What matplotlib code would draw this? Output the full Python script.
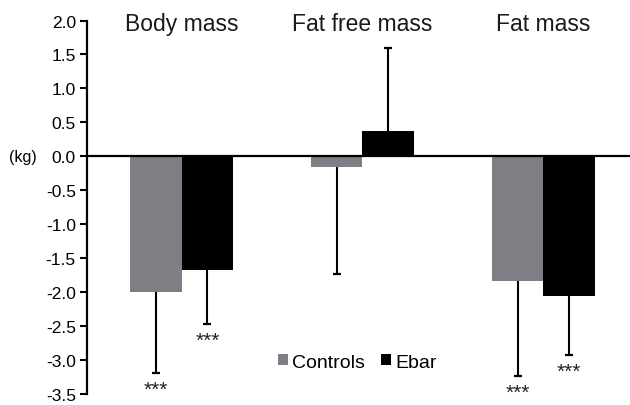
import numpy as np
import matplotlib.pyplot as plt

plt.rcParams['font.family'] = ['Liberation Sans', 'DejaVu Sans']

groups = ['Body mass', 'Fat free mass', 'Fat mass']
controls = [-2.0, -0.15, -1.83]
controls_err = [1.19, 1.58, 1.41]
ebar = [-1.68, 0.38, -2.06]
ebar_err = [0.79, 1.21, 0.87]
ctrl_sig = ['***', '', '***']
ebar_sig = ['***', '', '***']

x = np.arange(len(groups))
w = 0.285

fig = plt.figure(figsize=(6.3, 4.06), dpi=100)
ax = fig.add_axes([0.138, 0.027, 0.862, 0.92])


def one_sided(vals, errs):
    lo = [e if v < 0 else 0 for v, e in zip(vals, errs)]
    hi = [e if v >= 0 else 0 for v, e in zip(vals, errs)]
    return [lo, hi]


def draw_err(xs, vals, errs):
    ax.errorbar(xs, vals, yerr=one_sided(vals, errs), fmt='none', ecolor='black',
                elinewidth=1.5, capsize=0, zorder=3)
    ends = [v - e if v < 0 else v + e for v, e in zip(vals, errs)]
    ax.plot(xs, ends, ls='none', marker='_', ms=6, mew=1.6, color='black', zorder=3)


ax.bar(x - w / 2, controls, w, color='#7f7e84', label='Controls', zorder=2)
ax.bar(x + w / 2, ebar, w, color='black', label='Ebar', zorder=2)
draw_err(x - w / 2, controls, controls_err)
draw_err(x + w / 2, ebar, ebar_err)

for i in range(len(groups)):
    if ctrl_sig[i]:
        ax.text(x[i] - w / 2, controls[i] - controls_err[i] - 0.1, ctrl_sig[i],
                ha='center', va='top', fontsize=15, color='#222222')
    if ebar_sig[i]:
        ax.text(x[i] + w / 2, ebar[i] - ebar_err[i] - 0.1, ebar_sig[i],
                ha='center', va='top', fontsize=15, color='#222222')
    ax.text(x[i], 1.95, groups[i], ha='center', va='center', fontsize=16.5,
            color='#1a1a1a')

ax.axhline(0, color='black', lw=1.6, zorder=4)
ax.set_xlim(-0.523, 2.479)
ax.set_ylim(-3.5, 2.0)
ticks = np.arange(-3.5, 2.01, 0.5)
ax.set_yticks(ticks)
ax.set_yticklabels([f'{v:.1f}' for v in ticks], fontsize=12.5)
ax.tick_params(axis='y', direction='out', length=5, width=1.5, pad=3)
ax.set_xticks([])
for s in ['top', 'right', 'bottom']:
    ax.spines[s].set_visible(False)
ax.spines['left'].set_linewidth(1.6)

ax.text(-0.092, 0, '(kg)', transform=ax.get_yaxis_transform(), ha='right',
        va='center', fontsize=11.5)

ax.legend(loc='center', bbox_to_anchor=(0.498, 0.085), ncol=2, frameon=False,
          fontsize=14, handlelength=0.5, handleheight=0.5, handletextpad=0.25,
          columnspacing=0.8, borderpad=0)

fig.savefig('out.png', dpi=100)
